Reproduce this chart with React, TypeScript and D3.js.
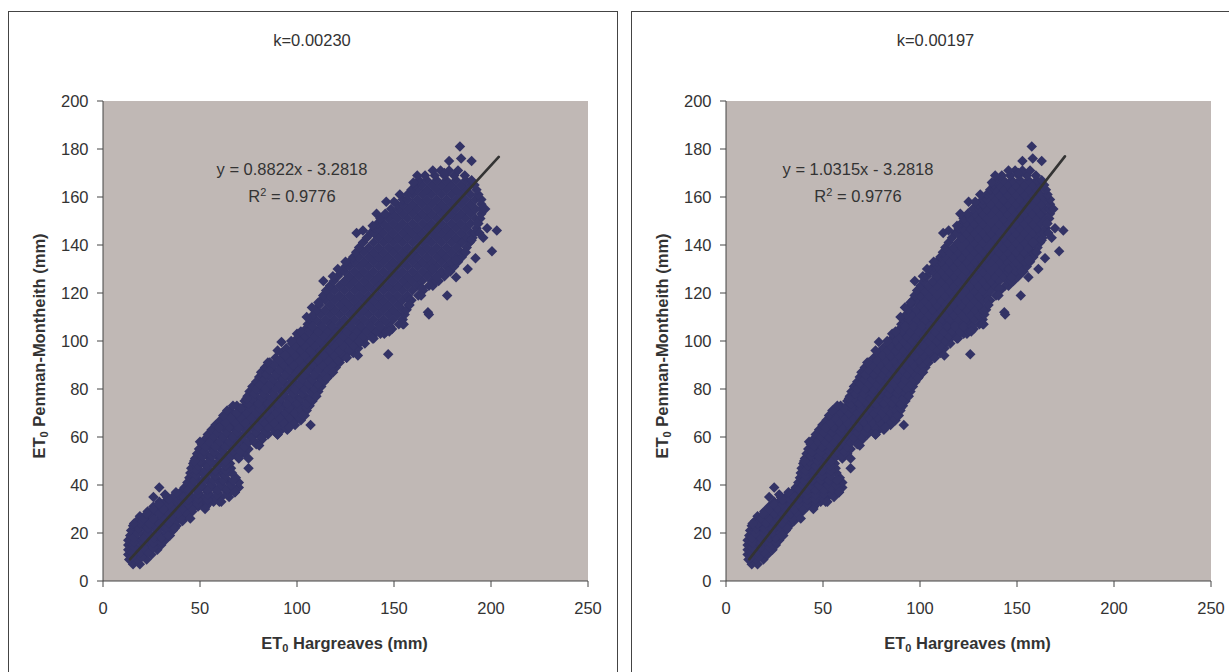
import React from "react";
import * as d3 from "d3";

const TEXT = "#333333";
const FONT = "'Liberation Sans', Arial, sans-serif";

// ET0 Penman-Montheith levels (mm), with the Hargreaves values (k=0.00230, mm) read at each level
const penmanLevels = [7,9,11,13,15,17,19,21,23,25,27,29,31,33,35,37,39,41,43,45,47,49,51,53,55,57,59,61,63,65,67,69,71,73,75,77,79,81,83,85,87,89,91,93,95,97,99,101,103,105,107,109,111,113,115,117,119,121,123,125,127,129,131,133,135,137,139,141,143,145,147,149,151,153,155,157,159,161,163,165,167,169,171];
const hargreavesAtLevel = [
  [15.5,19],[13.5,18,22.5],[13,16,20.5,25],[13,18,23,28],[13,15.5,20.5,25.5,30],[13,18,23,28,32],[14,16,21,26,31,34.5],
  [14.5,18.5,23.5,28.5,33.5,36],[15.5,21,26,31,36,38],[17.5,23,28,33,38,41],[19,25,30,35,40,43],[23,27,32,37,42,46],
  [26,29,34,39,44,49,53],[29,32,37,42,47,52,57,60],[33,36,41,46,51,56,61,65],[40,44,49,54,59,64,68],[42,47,52,57,62,67,70],
  [43.5,50,55,60,65,70],[44.5,48,53,58,63,68.5],[45,51,56,61,66.5],[45.5,49,54,59,64,66],[46.5,52,57,62,65.5],
  [47.5,50,55,60,65,70],[48.5,53,58,63,68,73],[49.5,56,61,66,71,75],[51,54,59,64,69,74,79],[52.5,57,62,67,72,77,82],
  [54,60,65,70,75,80,85,90],[56,63,68,73,78,83,88,92,95],[58,61,66,71,76,81,86,91,96,99],[60.5,64,69,74,79,84,89,94,99,102],
  [63,67,72,77,82,87,92,97,102,104],[65.5,70,75,80,85,90,95,100,105],[69,73,78,83,88,93,98,103,106.5],[73,76,81,86,91,96,101,106,108],
  [74.5,79,84,89,94,99,104,109.5],[75.5,77,82,87,92,97,102,107,111],[77,80,85,90,95,100,105,110,112.5],[79,83,88,93,98,103,108,113,114],
  [80.5,86,91,96,101,106,111,116],[81.5,84,89,94,99,104,109,114,118],[83.5,87,92,97,102,107,112,117,120],[86,90,95,100,105,110,115,120,122],
  [89,93,98,103,108,113,118,123,125.6],[92,96,101,106,111,116,121,126,129],[94.5,99,104,109,114,119,124,129,131.5],[97.5,102,107,112,117,122,127,132,135],
  [100,105,110,115,120,125,130,135,139.5],[102.5,108,113,118,123,128,133,138,143,145],[104.5,109,114,119,124,129,134,139,144,149],
  [105.5,107,112,117,122,127,132,137,142,147,152.5],[107,109.5,114.5,119.5,124.5,129.5,134.5,139.5,144.5,149.5,154.5],
  [108.5,112,117,122,127,132,137,142,147,152,155.5],[110,114.5,119.5,124.5,129.5,134.5,139.5,144.5,149.5,154.5,156.5],
  [111.5,117,122,127,132,137,142,147,152,157.5],[112.5,114.5,119.5,124.5,129.5,134.5,139.5,144.5,149.5,154.5,159],
  [113.5,117,122,127,132,137,142,147,152,157,162.5],[115,119.5,124.5,129.5,134.5,139.5,144.5,149.5,154.5,159.5,165],
  [117,122,127,132,137,142,147,152,157,162,168,170],[119,124.5,129.5,134.5,139.5,144.5,149.5,154.5,159.5,164.5,169.5,173],
  [121,127,132,137,142,147,152,157,162,167,172,176],[123,124.5,129.5,134.5,139.5,144.5,149.5,154.5,159.5,164.5,169.5,174.5,179],
  [125,127,132,137,142,147,152,157,162,167,172,177,181],[127,129.5,134.5,139.5,144.5,149.5,154.5,159.5,164.5,169.5,174.5,179.5,183],
  [129,132,137,142,147,152,157,162,167,172,177,182,185],[130.5,134.5,139.5,144.5,149.5,154.5,159.5,164.5,169.5,174.5,179.5,184.5,186.5],
  [132,137,142,147,152,157,162,167,172,177,182,187.5],[134,139.5,144.5,149.5,154.5,159.5,164.5,169.5,174.5,179.5,184.5,189],
  [136,142,147,152,157,162,167,172,177,182,187,190.5],[138,139.5,144.5,149.5,154.5,159.5,164.5,169.5,174.5,179.5,184.5,189.5,191.5],
  [140,142,147,152,157,162,167,172,177,182,187,192.5],[141.5,144.5,149.5,154.5,159.5,164.5,169.5,174.5,179.5,184.5,189.5,193.5],
  [143,147,152,157,162,167,172,177,182,187,192,194.5],[145.5,149.5,154.5,159.5,164.5,169.5,174.5,179.5,184.5,189.5,195],
  [148.5,152,157,162,167,172,177,182,187,192,195],[151.5,154.5,159.5,164.5,169.5,174.5,179.5,184.5,189.5,195],
  [154.5,157,162,167,172,177,182,187,192,195],[157,159.5,164.5,169.5,174.5,179.5,184.5,189.5,193.5],
  [159,162,167,172,177,182,187,192.5],[161,164.5,169.5,174.5,179.5,184.5,189.5,191.5],[163,167,172,177,182,187,190],
  [166,171,176,181,186.5],[174,178.4,183],
];
// further readings from the dense lower part of the band
const densePenmanLevels = [10,12,14,16,18,20,22,24,26,28,30,32,34,36,38,40,42,44,46,48,50,52,54,56,58,60,62,64,66,68,70,72,74,76,78,80,82,84,86,88,90,92,94,96,98,100,102,104,106];
const denseHargreaves = [
  [15,20],[15,19,23],[16,21,26],[16,21,26,30],[16,21,26,30],[18,23,28,33],[18,23,28,33],[19,24,29,34],[21,26,31,36,40],
  [24,29,34,39,43],[26,31,36,41,46],[29,34,39,44,49,54],[34,39,44,49,54,59],[39,44,49,54,59,64],[44,49,54,59,64,68],
  [46,51,56,61,66],[47,52,57,62,67],[48,53,58,63],[48,53,58,63],[49,54,59,63],[50,55,60,63],[51,56,61,66,70],[52,57,62,67,71],
  [53,58,63,68,73],[55,60,65,70,75,78],[57,62,67,72,77,82],[59,64,69,74,79,84,89],[60,65,70,75,80,85,90,94],[63,68,73,78,83,88,93,98],
  [66,71,76,81,86,91,96,101],[69,74,79,84,89,94,99,103],[71,76,81,86,91,96,101,105],[75,80,85,90,95,100,105],[77,82,87,92,97,102,107],
  [78,83,88,93,98,103,108],[79,84,89,94,99,104,109],[81,86,91,96,101,106,111],[83,88,93,98,103,108,113],[84,89,94,99,104,109,114],
  [86,91,96,101,106,111,116],[88,93,98,103,108,113,118],[91,96,101,106,111,116,121],[94,99,104,109,114,119,124],[97,102,107,112,117,122,127],
  [99,104,109,114,119,124,129],[102,107,112,117,122,127,132],[104,109,114,119,124,129,134,139],[106,111,116,121,126,131,136,141,146],
  [108,113,118,123,128,133,138,143,148],
];
// isolated points and edge points of the band, as [Hargreaves, Penman-Montheith]
const strayPoints = [
  [22.6,28],[26,35],[29,39],[32,36],[37.6,37],[41.5,35],[37,22],[52.6,30],[74,76],[75,47],[75,51],[80.5,56.5],[107,65],
  [92,99.6],[100,103],[105,110],[107.7,114],[111,116],[113.6,125],[130.7,145],[146,158],[184,181],[184.6,176],[178.4,175],
  [190,175],[203,146],[200.5,137.4],[196,143],[192,134.5],[188,130],[182,126.6],[177.4,119],[167.5,112],[168,111],[171.7,125],
  [164.4,122],[158,117],[155,107],[147,94.5],[131.4,94],[125.6,93],[198,147],[194,145],[185,141],[182,133.6],[170,130],
  [16,24],[118.5,127],[125,133],[134,146],[141,153],[139,148],[121,130],[153,161],[162,169],[170,171],[176,170],[150,158],[160,166],
  [67,73],[62,69],[85,91],[90,96],[97,100],[102,104],[50,58],[47,50],[64,71],
  [33.5,19],[45,26],[61,33],[68,37],[90,61],[96,64],[103,69],[110,77],[115.5,84.5],[118.6,87],[139,101],[147.6,104],[154.6,107],
  [158,115],[164,119],[172,126.5],[178,129],[187,137],[190,142],[193,149],[197,155],
];

const panelK = [0.0023, 0.00197];
const panelOffset = [0, 623];
const titles = ["k=0.00230", "k=0.00197"];
const titleCentreX = [312, 935.5];
const slopes = [0.8822, 1.0315];
const intercept = -3.2818;
const trendFrom = [14, 12];
const trendTo = [204, 174.7];
const equationLabels = ["y = 0.8822x - 3.2818", "y = 1.0315x - 3.2818"];
const equationCentreX = [292, 858];
const xTicks = [0, 50, 100, 150, 200, 250];
const yTicks = [0, 20, 40, 60, 80, 100, 120, 140, 160, 180, 200];

const observations = penmanLevels.flatMap((y, i) => hargreavesAtLevel[i].map((x) => [x, y]))
  .concat(densePenmanLevels.flatMap((y, i) => denseHargreaves[i].map((x) => [x, y])))
  .concat(strayPoints);

const diamond = d3.symbol().type(d3.symbolDiamond2).size(70)();
const FS = 16.5;

function Panel({ index }: { index: number }) {
  const dx = panelOffset[index];
  const x = d3.scaleLinear().domain([0, 250]).range([103 + dx, 588 + dx]);
  const y = d3.scaleLinear().domain([0, 200]).range([581, 101]);
  const ratio = panelK[index] / panelK[0];
  const trend = d3.line<number>().x((v) => x(v)).y((v) => y(slopes[index] * v + intercept));
  const cx = 344.5 + dx;
  return (
    <g fontFamily={FONT} fill={TEXT}>
      <rect x={x(0)} y={y(200)} width={x(250) - x(0)} height={y(0) - y(200)} fill="#C0B8B5" />
      {observations.map(([hg, pm], i) => (
        <path key={i} d={diamond!} transform={`translate(${x(hg * ratio)},${y(pm)})`} fill="#333366" />
      ))}
      <path d={trend([trendFrom[index], trendTo[index]])!} stroke="#333333" strokeWidth={2.6} fill="none" strokeLinecap="round" />
      <path d={`M${x(0)},${y(200)}V${y(0)}H${x(250)}`} stroke="#444" fill="none" strokeWidth={1} />
      {yTicks.map((t) => (
        <g key={t}>
          <line x1={x(0) - 6} x2={x(0)} y1={y(t)} y2={y(t)} stroke="#444" />
          <text x={x(0) - 14.5} y={y(t) + 5.5} textAnchor="end" fontSize={FS}>{t}</text>
        </g>
      ))}
      {xTicks.map((t) => (
        <g key={t}>
          <line x1={x(t)} x2={x(t)} y1={y(0)} y2={y(0) + 6} stroke="#444" />
          <text x={x(t)} y={y(0) + 33} textAnchor="middle" fontSize={FS}>{t}</text>
        </g>
      ))}
      <text x={titleCentreX[index]} y={46} textAnchor="middle" fontSize={FS}>{titles[index]}</text>
      <text x={equationCentreX[index]} y={175} textAnchor="middle" fontSize={FS}>{equationLabels[index]}</text>
      <text x={equationCentreX[index]} y={201.5} textAnchor="middle" fontSize={FS}>
        R<tspan dy={-6} fontSize={11}>2</tspan><tspan dy={6}> = 0.9776</tspan>
      </text>
      <text x={cx} y={649} textAnchor="middle" fontSize={FS} fontWeight="bold">
        ET<tspan dy={3} fontSize={11}>0</tspan><tspan dy={-3}> Hargreaves (mm)</tspan>
      </text>
      <text transform={`translate(${45 + dx},346) rotate(-90)`} textAnchor="middle" fontSize={FS} fontWeight="bold">
        ET<tspan dy={3} fontSize={11}>0</tspan><tspan dy={-3}> Penman-Montheith (mm)</tspan>
      </text>
    </g>
  );
}

export default function App() {
  return (
    <svg width={1229} height={672} style={{ position: "absolute", left: 0, top: 0, display: "block", background: "#fff" }}>
      <rect x={8.5} y={11.5} width={609} height={700} fill="none" stroke="#444" />
      <rect x={631.5} y={11.5} width={700} height={700} fill="none" stroke="#444" />
      <Panel index={0} />
      <Panel index={1} />
    </svg>
  );
}
